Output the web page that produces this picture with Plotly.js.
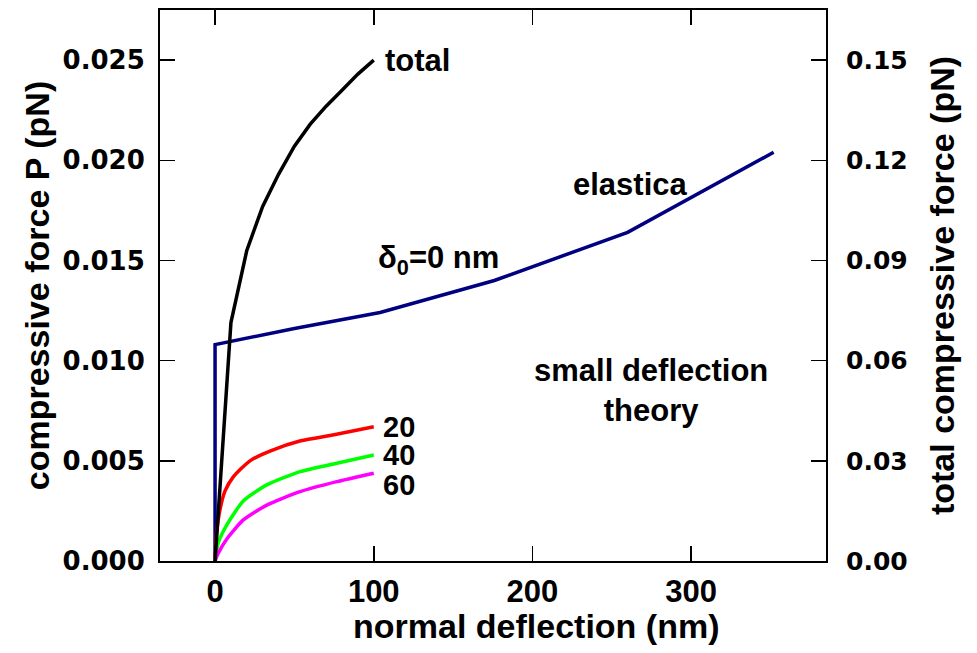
<!DOCTYPE html>
<html>
<head>
<meta charset="utf-8">
<script src="https://cdn.plot.ly/plotly-3.0.1.min.js"></script>
<style>html,body{margin:0;padding:0;background:#fff;}#chart{width:977px;height:653px;}</style>
</head>
<body>
<div id="chart"></div>
<script>
// total compressive force (right axis, pN) vs normal deflection (nm)
const totalX = [0, 10, 20, 30, 40, 50, 60, 70, 80, 90, 100];
const totalY = [0, 0.0714, 0.093, 0.1062, 0.1158, 0.1242, 0.1308, 0.1362, 0.141, 0.1458, 0.150];

// elastica, delta0 = 0 nm (left axis)
const elasticaX = [0, 0, 50, 104, 176, 260, 352];
const elasticaY = [0, 0.0108, 0.0116, 0.0124, 0.0140, 0.0164, 0.0204];

// small deflection theory, delta0 = 20, 40, 60 nm (left axis)
const d20X = [0, 1, 3.2, 6.3, 11.5, 22, 35, 54, 75, 100];
const d20Y = [0, 0.0014, 0.0026, 0.0035, 0.0042, 0.0050, 0.0055, 0.0060, 0.0063, 0.0067];
const d40X = [0, 2, 7.4, 17.8, 32.6, 53.6, 76.7, 100];
const d40Y = [0, 0.0009, 0.0018, 0.0030, 0.0038, 0.00446, 0.00488, 0.00529];
const d60X = [0, 2.1, 7.4, 17.8, 32.6, 53.6, 76.7, 100];
const d60Y = [0, 0.0004, 0.00110, 0.00205, 0.00279, 0.00346, 0.00396, 0.00438];

const xTicks = [0, 100, 200, 300];
const yTicks = [0, 0.005, 0.010, 0.015, 0.020, 0.025];
const y2Ticks = [0, 0.03, 0.06, 0.09, 0.12, 0.15];

const lineW = 3.5;
const traces = [
  {x: elasticaX, y: elasticaY, mode: 'lines', line: {color: '#000080', width: lineW}, yaxis: 'y'},
  {x: d20X, y: d20Y, mode: 'lines', line: {color: '#ff0000', width: lineW, shape: 'spline', smoothing: 0.6}, yaxis: 'y'},
  {x: d40X, y: d40Y, mode: 'lines', line: {color: '#00ff00', width: lineW, shape: 'spline', smoothing: 0.6}, yaxis: 'y'},
  {x: d60X, y: d60Y, mode: 'lines', line: {color: '#ff00ff', width: lineW, shape: 'spline', smoothing: 0.6}, yaxis: 'y'},
  {x: totalX, y: totalY, mode: 'lines', line: {color: '#000000', width: lineW}, yaxis: 'y2'}
];

const fam = 'Liberation Sans, Arial, sans-serif';
const annFont = {family: fam, size: 31, color: '#000', weight: 'bold'};
const numFont = {family: fam, size: 29, color: '#000', weight: 'bold'};
const annotations = [
  {x: 106, y: 0.0250, xref: 'x', yref: 'y', text: 'total', xanchor: 'left', yanchor: 'middle'},
  {x: 262, y: 0.0188, xref: 'x', yref: 'y', text: 'elastica', xanchor: 'center', yanchor: 'middle'},
  {x: 141, y: 0.0150, xref: 'x', yref: 'y', text: 'δ<sub>0</sub>=0 nm', xanchor: 'center', yanchor: 'middle'},
  {x: 274.7, y: 0.00853, xref: 'x', yref: 'y', text: 'small deflection<br>theory', xanchor: 'center', yanchor: 'middle'},
  {x: 104.5, y: 0.00669, xref: 'x', yref: 'y', text: '20', xanchor: 'left', yanchor: 'middle', font: numFont},
  {x: 104.5, y: 0.00529, xref: 'x', yref: 'y', text: '40', xanchor: 'left', yanchor: 'middle', font: numFont},
  {x: 104.5, y: 0.00379, xref: 'x', yref: 'y', text: '60', xanchor: 'left', yanchor: 'middle', font: numFont},
  {x: 0.565, y: -0.118, xref: 'paper', yref: 'paper', text: 'normal deflection (nm)', xanchor: 'center', yanchor: 'middle',
   font: {family: fam, size: 34, color: '#000', weight: 'bold'}}
].map(a => Object.assign({showarrow: false, font: annFont}, a));

const layout = {
  width: 977, height: 653,
  margin: {l: 160, r: 151, t: 10, b: 92},
  paper_bgcolor: '#fff', plot_bgcolor: '#fff',
  showlegend: false,
  xaxis: {
    range: [-34.7, 385], tickvals: xTicks, ticktext: xTicks.map(String),
    ticks: 'inside', ticklen: 15, tickwidth: 1.5, tickcolor: '#000',
    showline: true, linecolor: '#000', linewidth: 2, mirror: 'ticks',
    showgrid: false, zeroline: false,
    tickfont: {family: fam, size: 31, color: '#000', weight: 'bold'},
    ticklabelstandoff: 2
  },
  yaxis: {
    range: [0, 0.0275], tickvals: yTicks, ticktext: yTicks.map(v => v.toFixed(3)),
    ticks: 'inside', ticklen: 15, tickwidth: 1.5, tickcolor: '#000',
    showline: true, linecolor: '#000', linewidth: 2,
    showgrid: false, zeroline: false,
    tickfont: {family: 'DejaVu Sans, sans-serif', size: 26, color: '#000', weight: 'bold'},
    ticklabelstandoff: 8,
    title: {text: 'compressive force P (pN)', font: {family: fam, size: 34, color: '#000', weight: 'bold'}, standoff: 3}
  },
  yaxis2: {
    range: [0, 0.165], tickvals: y2Ticks, ticktext: y2Ticks.map(v => v.toFixed(2)),
    overlaying: 'y', side: 'right',
    ticks: 'inside', ticklen: 15, tickwidth: 1.5, tickcolor: '#000',
    showline: true, linecolor: '#000', linewidth: 2,
    showgrid: false, zeroline: false,
    tickfont: {family: 'DejaVu Sans, sans-serif', size: 25, color: '#000', weight: 'bold'},
    ticklabelstandoff: 13,
    title: {text: 'total compressive force (pN)', font: {family: fam, size: 34, color: '#000', weight: 'bold'}, standoff: 24}
  },
  annotations: annotations
};

Plotly.newPlot('chart', traces, layout, {displayModeBar: false, staticPlot: true});
</script>
</body>
</html>
